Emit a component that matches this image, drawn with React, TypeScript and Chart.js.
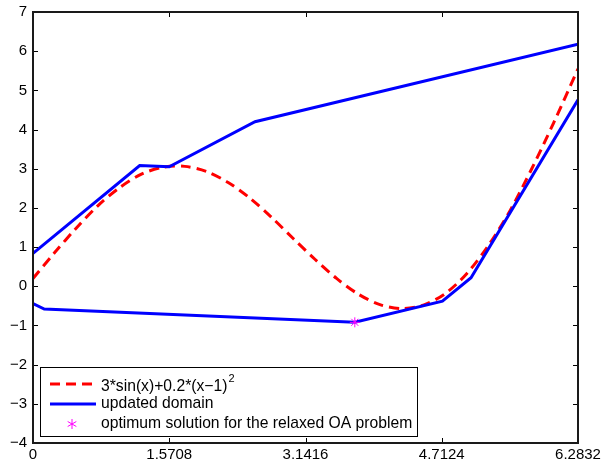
import React, { useEffect, useRef } from "react";
import { Chart, registerables } from "chart.js";

Chart.register(...registerables);

// red dashed curve 3*sin(x)+0.2*(x-1)^2
const curveX = [0, 0.25, 0.5, 0.75, 1, 1.25, 1.5, 1.75, 2, 2.25, 2.5, 2.75, 3, 3.25, 3.5, 3.75, 4, 4.25, 4.5, 4.75, 5, 5.25, 5.5, 5.75, 6, 6.2832];
const curveY = [0.2, 0.86, 1.49, 2.06, 2.52, 2.86, 3.04, 3.06, 2.93, 2.65, 2.25, 1.76, 1.22, 0.69, 0.2, -0.2, -0.47, -0.57, -0.48, -0.19, 0.32, 1.04, 1.93, 3.0, 4.16, 5.55];

// updated domain (two polylines)
const upperX = [0, 1.23, 1.57, 2.56, 6.2832];
const upperY = [0.84, 3.08, 3.05, 4.2, 6.18];
const lowerX = [0, 0.13, 3.71, 4.72, 5.05, 6.2832];
const lowerY = [-0.44, -0.58, -0.92, -0.38, 0.22, 4.76];

// optimum solution
const optX = [3.71];
const optY = [-0.92];

const xTicks = [0, 1.5708, 3.1416, 4.7124, 6.2832];
const xTickLabels = ["0", "1.5708", "3.1416", "4.7124", "6.2832"];
const yTicks = [-4, -3, -2, -1, 0, 1, 2, 3, 4, 5, 6, 7];

const legendLabels = ["3*sin(x)+0.2*(x\u22121)", "updated domain", "optimum solution for the relaxed OA problem"];

const FONT = "Liberation Sans, Arial, Helvetica, sans-serif";

const zip = (xs: number[], ys: number[]) => xs.map((x, i) => ({ x, y: ys[i] }));

export default function App() {
  const ref = useRef<HTMLCanvasElement | null>(null);
  useEffect(() => {
    if (!ref.current) return;
    const framePlugin = {
      id: "frame",
      afterDraw(chart: any) {
        const { ctx, chartArea, scales } = chart;
        const { left, right, top, bottom } = chartArea;
        ctx.save();
        ctx.strokeStyle = "#000";
        ctx.lineWidth = 1;
        ctx.beginPath();
        xTicks.forEach((v) => {
          const px = Math.round(scales.x.getPixelForValue(v)) + 0.5;
          ctx.moveTo(px, bottom);
          ctx.lineTo(px, bottom - 5);
          ctx.moveTo(px, top);
          ctx.lineTo(px, top + 5);
        });
        yTicks.forEach((v) => {
          const py = Math.round(scales.y.getPixelForValue(v)) + 0.5;
          ctx.moveTo(left, py);
          ctx.lineTo(left + 5, py);
          ctx.moveTo(right, py);
          ctx.lineTo(right - 5, py);
        });
        ctx.stroke();
        ctx.lineWidth = 2;
        ctx.strokeStyle = "#1a1a1a";
        ctx.strokeRect(left, top, right - left, bottom - top);

        // legend
        const bx = 40, by = 367, bw = 377, bh = 69;
        ctx.fillStyle = "#fff";
        ctx.fillRect(bx, by, bw, bh);
        ctx.lineWidth = 1;
        ctx.strokeStyle = "#000";
        ctx.strokeRect(bx + 0.5, by + 0.5, bw, bh);
        const rows = [384, 404, 424];
        // row 1: red dashed
        ctx.strokeStyle = "#ff0000";
        ctx.lineWidth = 3;
        ctx.setLineDash([10, 6]);
        ctx.beginPath();
        ctx.moveTo(50, rows[0]);
        ctx.lineTo(96, rows[0]);
        ctx.stroke();
        ctx.setLineDash([]);
        // row 2: blue
        ctx.strokeStyle = "#0000ff";
        ctx.beginPath();
        ctx.moveTo(50, rows[1]);
        ctx.lineTo(96, rows[1]);
        ctx.stroke();
        // row 3: star
        ctx.strokeStyle = "#ff00ff";
        ctx.lineWidth = 1;
        const sx = 72, sy = rows[2], r = 5;
        ctx.beginPath();
        for (let k = 0; k < 3; k++) {
          const a = (Math.PI / 3) * k + Math.PI / 2;
          ctx.moveTo(sx + r * Math.cos(a), sy + r * Math.sin(a));
          ctx.lineTo(sx - r * Math.cos(a), sy - r * Math.sin(a));
        }
        ctx.stroke();
        // texts
        ctx.fillStyle = "#000";
        ctx.textBaseline = "middle";
        ctx.textAlign = "left";
        ctx.font = `15.7px ${FONT}`;
        ctx.fillText(legendLabels[0], 101, rows[0] + 3);
        const w0 = ctx.measureText(legendLabels[0]).width;
        ctx.font = `11px ${FONT}`;
        ctx.fillText("2", 101 + w0 + 1, rows[0] - 5);
        ctx.font = `15.7px ${FONT}`;
        ctx.fillText(legendLabels[1], 101, rows[1]);
        ctx.fillText(legendLabels[2], 101, rows[2]);
        ctx.restore();
      },
    };

    const chart = new Chart(ref.current, {
      type: "line",
      data: {
        datasets: [
          {
            label: "opt",
            data: zip(optX, optY),
            showLine: false,
            pointStyle: "star",
            pointRadius: 5,
            pointBorderColor: "#ff00ff",
            pointBackgroundColor: "#ff00ff",
            pointBorderWidth: 1,
            order: 0,
          },
          {
            label: "upper",
            data: zip(upperX, upperY),
            borderColor: "#0000ff",
            borderWidth: 3,
            pointRadius: 0,
            tension: 0,
            fill: false,
            order: 1,
          },
          {
            label: "lower",
            data: zip(lowerX, lowerY),
            borderColor: "#0000ff",
            borderWidth: 3,
            pointRadius: 0,
            tension: 0,
            fill: false,
            order: 1,
          },
          {
            label: "curve",
            data: zip(curveX, curveY),
            borderColor: "#ff0000",
            borderWidth: 3,
            borderDash: [10, 6],
            pointRadius: 0,
            tension: 0.3,
            fill: false,
            order: 2,
          },
        ],
      },
      options: {
        animation: false,
        responsive: false,
        layout: { padding: { left: 0, right: 23, top: 12, bottom: 0 } },
        plugins: { legend: { display: false }, tooltip: { enabled: false } },
        scales: {
          x: {
            type: "linear",
            min: 0,
            max: 6.2832,
            grid: { display: false, drawTicks: false },
            border: { display: false },
            afterBuildTicks: (s: any) => {
              s.ticks = xTicks.map((v) => ({ value: v }));
            },
            afterFit: (s: any) => {
              s.height = 23;
              s.paddingLeft = 0;
              s.paddingRight = 0;
            },
            ticks: {
              padding: 3,
              maxRotation: 0,
              autoSkip: false,
              color: "#000",
              font: { family: FONT, size: 15 },
              callback: (v: any) => {
                const i = xTicks.indexOf(Number(v));
                return i >= 0 ? xTickLabels[i] : "";
              },
            },
          },
          y: {
            type: "linear",
            min: -4,
            max: 7,
            grid: { display: false, drawTicks: false },
            border: { display: false },
            afterBuildTicks: (s: any) => {
              s.ticks = yTicks.map((v) => ({ value: v }));
            },
            afterFit: (s: any) => {
              s.width = 33;
              s.paddingTop = 0;
              s.paddingBottom = 0;
            },
            ticks: {
              padding: 6,
              autoSkip: false,
              color: "#000",
              font: { family: FONT, size: 15 },
              callback: (v: any) => {
                const n = Number(v);
                return n < 0 ? "\u2212" + Math.abs(n) : String(n);
              },
            },
          },
        },
      },
      plugins: [framePlugin],
    } as any);
    return () => chart.destroy();
  }, []);

  return (
    <div style={{ position: "absolute", left: 0, top: 0, width: 601, height: 466, background: "#fff" }}>
      <canvas ref={ref} width={601} height={466} style={{ display: "block" }} />
    </div>
  );
}
